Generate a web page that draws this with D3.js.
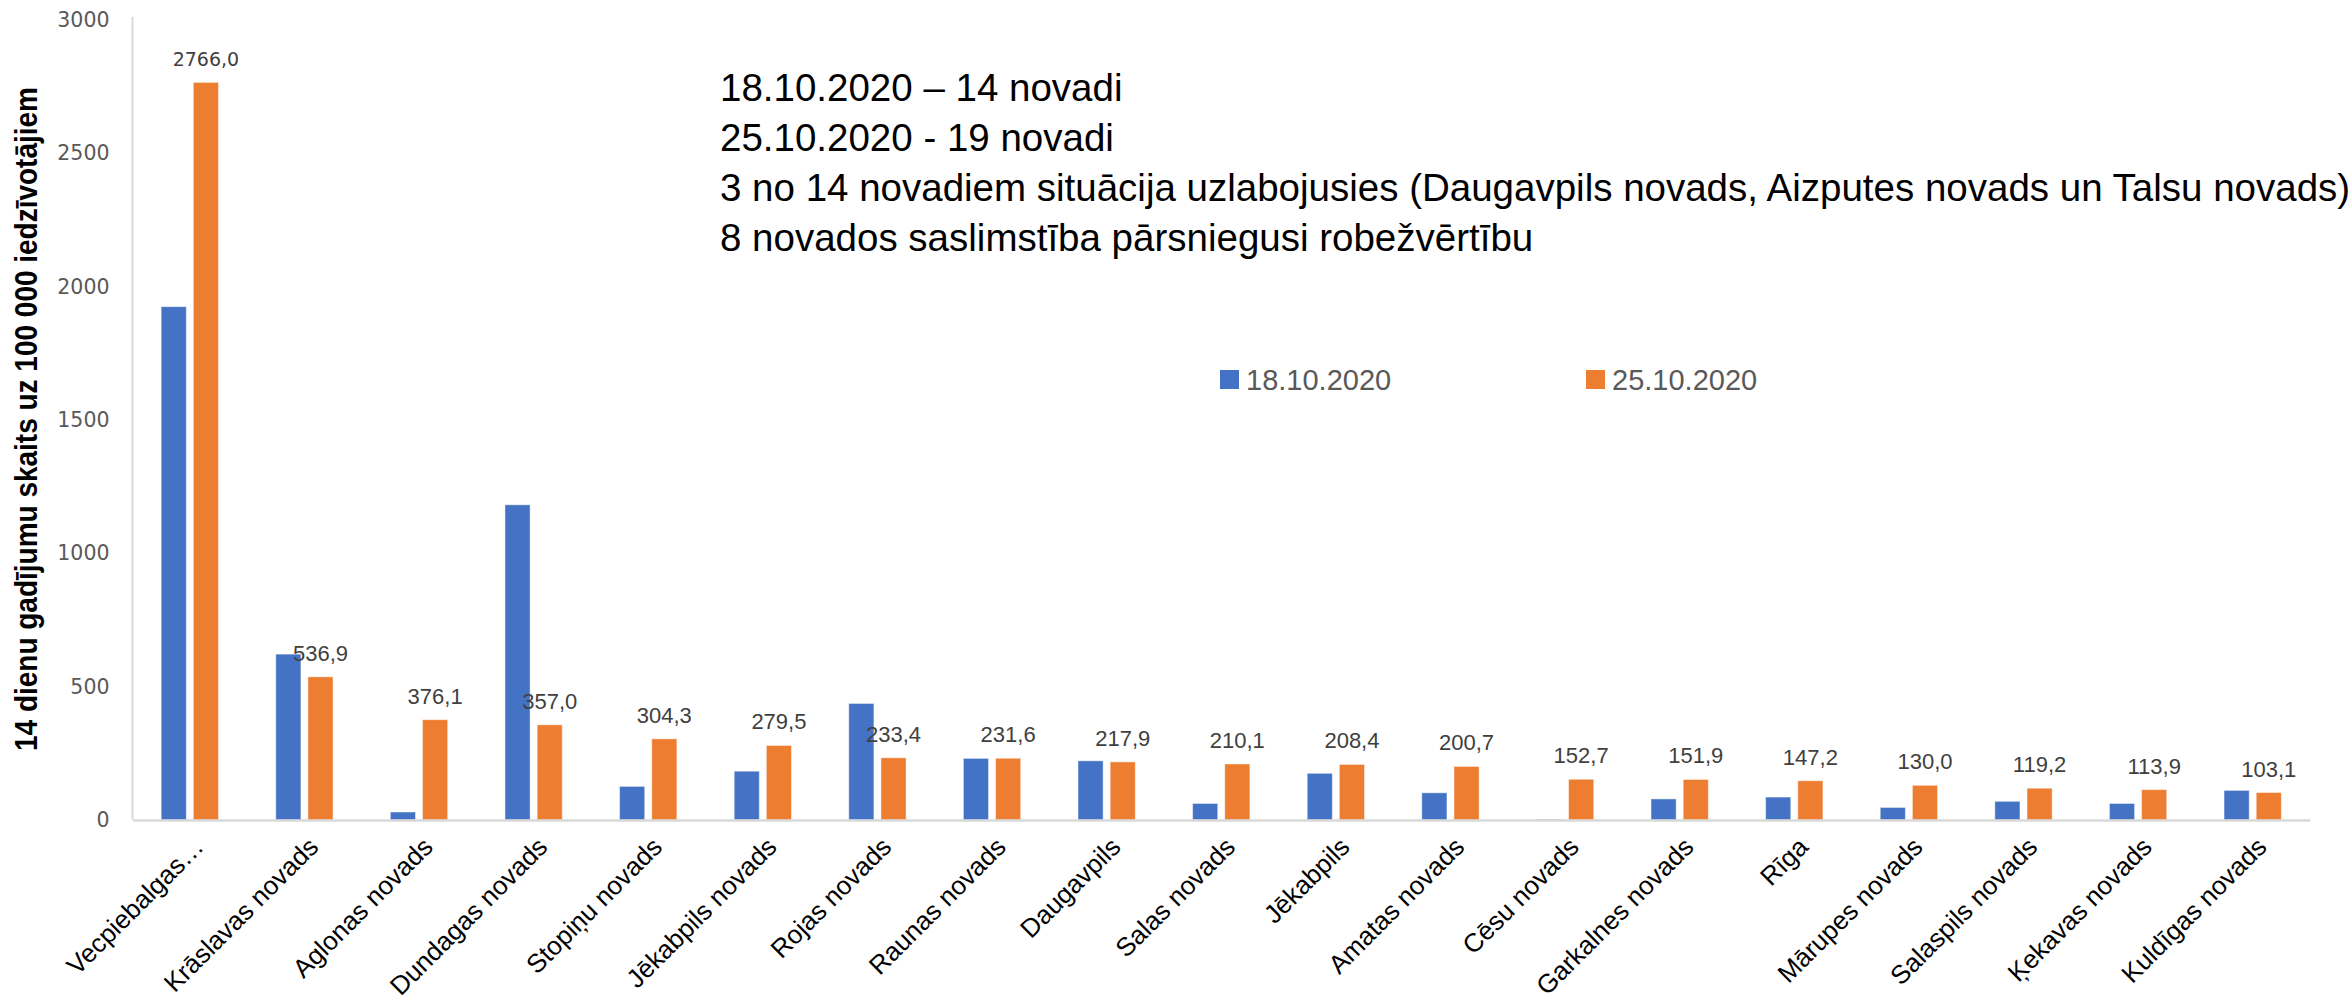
<!DOCTYPE html>
<html>
<head>
<meta charset="utf-8">
<script src="https://cdn.jsdelivr.net/npm/d3@7"></script>
<style>
  body { margin: 0; background: #fff; }
  svg { display: block; }
</style>
</head>
<body>
<svg id="chart" width="2352" height="1005"></svg>
<script>
// categories (novadi)
var novadi = ["Vecpiebalgas…", "Krāslavas novads", "Aglonas novads", "Dundagas novads",
              "Stopiņu novads", "Jēkabpils novads", "Rojas novads", "Raunas novads",
              "Daugavpils", "Salas novads", "Jēkabpils", "Amatas novads", "Cēsu novads",
              "Garkalnes novads", "Rīga", "Mārupes novads", "Salaspils novads",
              "Ķekavas novads", "Kuldīgas novads"];

// 14 day cases per 100 000
var okt18 = [1925, 622, 30, 1182, 126, 183, 437, 231, 222, 62, 175, 102, 3, 79, 86, 47, 70, 62, 111];
var okt25 = [2766.0, 536.9, 376.1, 357.0, 304.3, 279.5, 233.4, 231.6, 217.9, 210.1, 208.4,
             200.7, 152.7, 151.9, 147.2, 130.0, 119.2, 113.9, 103.1];

var seriesNames = ["18.10.2020", "25.10.2020"];
var yTicks = [0, 500, 1000, 1500, 2000, 2500, 3000];

var notes = ["18.10.2020 – 14 novadi",
             "25.10.2020 - 19 novadi",
             "3 no 14 novadiem situācija uzlabojusies (Daugavpils novads, Aizputes novads un Talsu novads)",
             "8 novados saslimstība pārsniegusi robežvērtību"];

var yTitle = "14 dienu gadījumu skaits uz 100 000 iedzīvotājiem";

var colors = {"18.10.2020": "#4472C4", "25.10.2020": "#ED7D31"};

//plot area
var pLeft = 132.5, pRight = 2310, pTop = 20, pBottom = 820;

var svg = d3.select("#chart");

var lv = d3.formatLocale({decimal: ",", thousands: " ", grouping: [3], currency: ["", ""]});
var fmt = lv.format(".1f");

var x = d3.scaleBand().domain(novadi).range([pLeft, pRight]).paddingInner(0.5).paddingOuter(0.25);
var x1 = d3.scaleBand().domain(seriesNames).range([0, x.bandwidth()]).paddingInner(7/32);
var y = d3.scaleLinear().domain([0, 3000]).range([pBottom, pTop]);

var rows = novadi.map(function(n, i) {
    return {name: n, vals: [{s: seriesNames[0], v: okt18[i]}, {s: seriesNames[1], v: okt25[i]}]};
});

//y axis
var yAxis = svg.append("g")
    .attr("transform", "translate(" + pLeft + ",0)")
    .call(d3.axisLeft(y).tickValues(yTicks).tickFormat(d3.format("d")).tickSize(0).tickPadding(23));
yAxis.select(".domain").attr("stroke", "#D9D9D9").attr("stroke-width", 2)
    .attr("d", "M0," + (pTop - 3) + "V" + pBottom);
yAxis.selectAll("text")
    .attr("font-family", "DejaVu Sans")
    .attr("font-size", 20.5)
    .attr("fill", "#595959");

//bars
var groups = svg.append("g").selectAll("g")
    .data(rows)
    .enter().append("g")
    .attr("transform", function(d) { return "translate(" + x(d.name) + ",0)"; });

groups.selectAll("rect")
    .data(function(d) { return d.vals; })
    .enter().append("rect")
    .attr("x", function(d) { return x1(d.s); })
    .attr("width", x1.bandwidth())
    .attr("y", function(d) { return y(d.v); })
    .attr("height", function(d) { return y(0) - y(d.v); })
    .attr("fill", function(d) { return colors[d.s]; })
    .attr("stroke", "#ffffff")
    .attr("stroke-opacity", 0.45)
    .attr("stroke-width", 1);

//x axis line
var xAxis = svg.append("g")
    .attr("transform", "translate(0," + pBottom + ")")
    .call(d3.axisBottom(x).tickSize(0).tickFormat(""));
xAxis.select(".domain").attr("stroke", "#D9D9D9").attr("stroke-width", 2.5);

//category labels
svg.append("g").selectAll("text")
    .data(novadi)
    .enter().append("text")
    .attr("transform", function(d) {
        return "translate(" + (x(d) + x.bandwidth() / 2 + 9) + "," + (pBottom + 22) + ") rotate(-45)";
    })
    .attr("text-anchor", "end")
    .attr("dy", "0.35em")
    .attr("font-family", "Liberation Sans, Arial, sans-serif")
    .attr("font-size", 26)
    .attr("fill", "#000")
    .text(function(d) { return d; });

//value labels above 25.10 bars
svg.append("g").selectAll("text")
    .data(rows)
    .enter().append("text")
    .attr("x", function(d) { return x(d.name) + x1(seriesNames[1]) + x1.bandwidth() / 2; })
    .attr("y", function(d) { return y(d.vals[1].v) - 16; })
    .attr("text-anchor", "middle")
    .attr("font-family", function(d, i) { return i == 0 ? "DejaVu Sans" : "Liberation Sans, Arial, sans-serif"; })
    .attr("font-size", function(d, i) { return i == 0 ? 19 : 22; })
    .attr("fill", "#404040")
    .text(function(d) { return fmt(d.vals[1].v); });

//y title
svg.append("text")
    .attr("transform", "translate(37,419) rotate(-90)")
    .attr("text-anchor", "middle")
    .attr("font-family", "Liberation Sans Narrow, Liberation Sans, Arial, sans-serif")
    .attr("font-weight", "bold")
    .attr("font-size", 31)
    .attr("textLength", 664)
    .attr("lengthAdjust", "spacingAndGlyphs")
    .text(yTitle);

//notes
svg.append("g").selectAll("text")
    .data(notes)
    .enter().append("text")
    .attr("x", 720)
    .attr("y", function(d, i) { return 101 + i * 50; })
    .attr("font-family", "Liberation Sans, Arial, sans-serif")
    .attr("font-size", 38.5)
    .attr("fill", "#000")
    .text(function(d) { return d; });

//legend
var legX = [1220, 1586];
var leg = svg.append("g").selectAll("g")
    .data(seriesNames)
    .enter().append("g")
    .attr("transform", function(d, i) { return "translate(" + legX[i] + ",370)"; });
leg.append("rect")
    .attr("width", 19).attr("height", 19)
    .attr("fill", function(d) { return colors[d]; });
leg.append("text")
    .attr("x", 26).attr("y", 9.5).attr("dy", "0.35em")
    .attr("font-family", "Liberation Sans, Arial, sans-serif")
    .attr("font-size", 29)
    .attr("fill", "#595959")
    .text(function(d) { return d; });
</script>
</body>
</html>
